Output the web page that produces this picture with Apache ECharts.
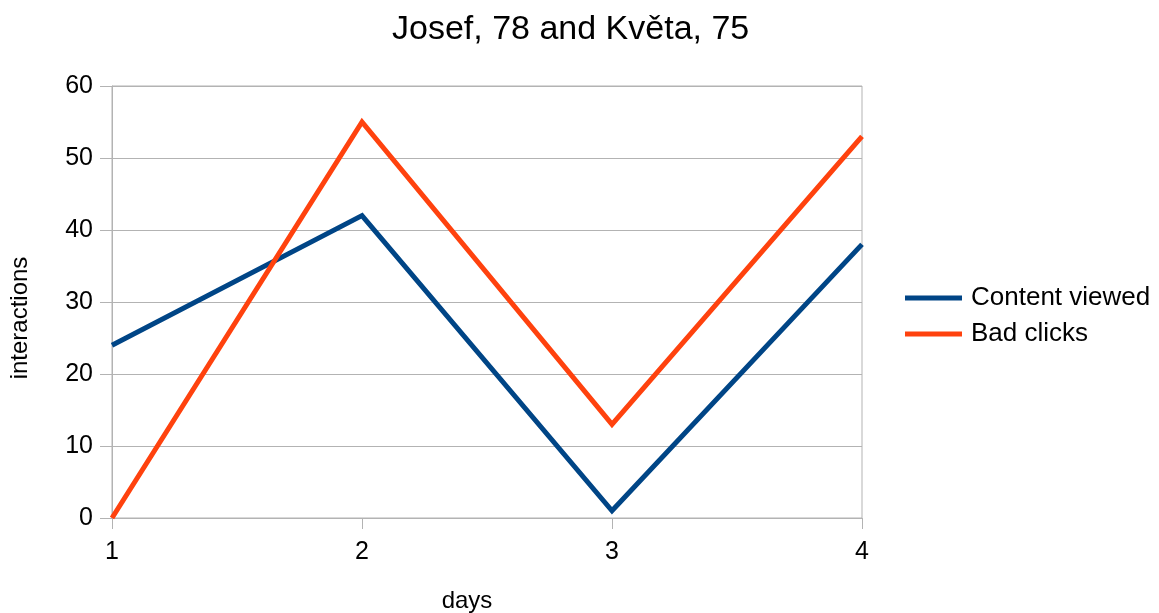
<!DOCTYPE html>
<html>
<head>
<meta charset="utf-8">
<script src="https://cdn.jsdelivr.net/npm/echarts@6/dist/echarts.min.js"></script>
<style>
  html, body { margin: 0; padding: 0; background: #ffffff; }
  #chart { width: 1159px; height: 613px; }
</style>
</head>
<body>
<div id="chart"></div>
<script>
// Daily interaction counts for the two participants
const days = ['1', '2', '3', '4'];
const contentViewed = [24, 42, 1, 38];
const badClicks = [0, 55, 13, 53];
const seriesNames = ['Content viewed', 'Bad clicks'];

const FONT = '"Liberation Sans", Arial, sans-serif';
const chart = echarts.init(document.getElementById('chart'), null, { renderer: 'canvas' });

chart.setOption({
  backgroundColor: '#ffffff',
  animation: false,
  title: {
    text: 'Josef, 78 and Květa, 75',
    left: 387,
    top: 8,
    textStyle: { fontFamily: FONT, fontSize: 34, fontWeight: 'normal', color: '#000000' }
  },
  legend: {
    orient: 'vertical',
    left: 905,
    top: 285,
    padding: 0,
    itemWidth: 57,
    itemHeight: 5,
    itemGap: 10,
    icon: 'rect',
    textStyle: { fontFamily: FONT, fontSize: 26, color: '#000000', padding: [0, 0, 0, 4] },
    data: seriesNames
  },
  grid: {
    left: 112,
    right: 297,
    top: 86,
    bottom: 95,
    containLabel: false,
    outerBoundsMode: 'none',
    show: true,
    borderColor: '#b3b3b3',
    borderWidth: 1
  },
  xAxis: {
    type: 'category',
    data: days,
    boundaryGap: false,
    name: 'days',
    nameLocation: 'middle',
    nameGap: 71,
    nameTextStyle: { fontFamily: FONT, fontSize: 24, color: '#000000', padding: [0, 40, 0, 0] },
    axisLine: { show: true, lineStyle: { color: '#b3b3b3', width: 1 } },
    axisTick: { show: true, length: 11, lineStyle: { color: '#b3b3b3' } },
    axisLabel: { fontFamily: FONT, fontSize: 25, color: '#000000', margin: 22 },
    splitLine: { show: false }
  },
  yAxis: {
    type: 'value',
    min: 0,
    max: 60,
    interval: 10,
    name: 'interactions',
    nameLocation: 'middle',
    nameGap: 80,
    nameRotate: 90,
    nameTextStyle: { fontFamily: FONT, fontSize: 24, color: '#000000', padding: [0, 32, 0, 0] },
    axisLine: { show: true, lineStyle: { color: '#b3b3b3', width: 1 } },
    axisTick: { show: true, length: 12, lineStyle: { color: '#b3b3b3' } },
    axisLabel: { fontFamily: FONT, fontSize: 25, color: '#000000', margin: 19 },
    splitLine: { show: true, lineStyle: { color: '#b3b3b3', width: 1 } }
  },
  series: [
    {
      name: seriesNames[0],
      type: 'line',
      data: contentViewed,
      symbol: 'none',
      lineStyle: { color: '#004586', width: 5, join: 'miter' },
      itemStyle: { color: '#004586' }
    },
    {
      name: seriesNames[1],
      type: 'line',
      data: badClicks,
      symbol: 'none',
      lineStyle: { color: '#ff420e', width: 5, join: 'miter' },
      itemStyle: { color: '#ff420e' }
    }
  ]
});
</script>
</body>
</html>
